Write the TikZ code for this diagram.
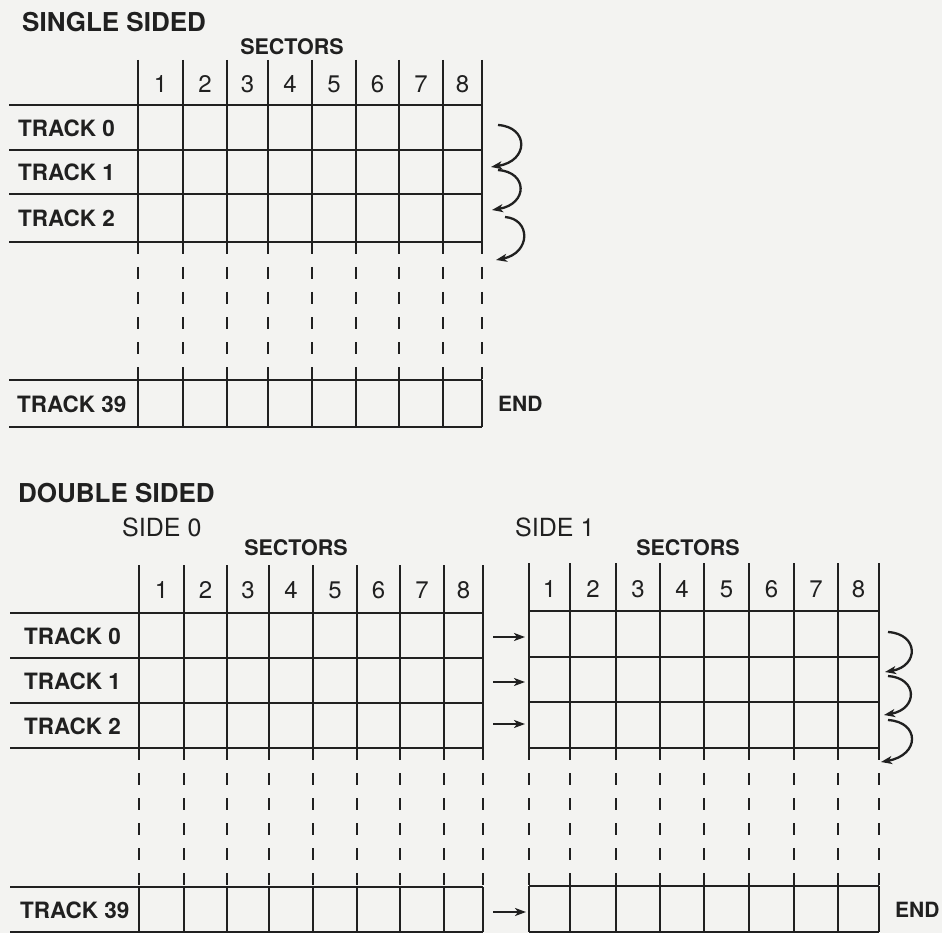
\documentclass[tikz,border=0pt]{standalone}
\usepackage{fontspec}
\setmainfont{TeX Gyre Heros}
\usetikzlibrary{arrows.meta}
\definecolor{bg}{RGB}{243,243,241}
\definecolor{ink}{RGB}{32,32,32}
\begin{document}
\begin{tikzpicture}[x=1pt,y=-1pt,
  gridline/.style={ink, line width=2.6pt},
  dashv/.style={ink, line width=2.6pt, dash pattern=on 12pt off 13pt},
  arr/.style={ink, line width=2.3pt, -{Stealth[length=11pt,width=8pt,inset=3pt]}},
  bigtitle/.style={font=\fontsize{26}{26}\selectfont\bfseries, anchor=west, inner sep=0pt, text=ink},
  sidelabel/.style={font=\fontsize{25}{25}\selectfont, anchor=west, inner sep=0pt, text=ink},
  sectlabel/.style={font=\fontsize{21.5}{21.5}\selectfont\bfseries, inner sep=0pt, text=ink},
  num/.style={font=\fontsize{24}{24}\selectfont, inner sep=0pt, text=ink},
  tracklabel/.style={font=\fontsize{22.5}{22.5}\selectfont\bfseries, anchor=west, inner sep=0pt, text=ink},
  endlabel/.style={font=\fontsize{21}{21}\selectfont\bfseries, anchor=west, inner sep=0pt, text=ink},
]
\fill[bg] (0,0) rectangle (942,933);
\useasboundingbox (0,0) rectangle (942,933);

% ================= SINGLE SIDED =================
\node[bigtitle] (sstitle) at (22,22) {SINGLE SIDED};
\node[sectlabel] (sssect) at (292,47) {SECTORS};
\foreach \x in {138,183,227,268,312,356,399,443,482}{
  \draw[gridline] (\x,60) -- (\x,242);
  \draw[dashv] (\x,242) -- (\x,380);
  \draw[gridline] (\x,380) -- (\x,427);
}
\foreach \y in {105,150,194,242,380,427}{
  \draw[gridline] (9,\y) -- (482,\y);
}
\foreach \a/\b [count=\i] in {138/183,183/227,227/268,268/312,312/356,356/399,399/443,443/482}{
  \node[num] (ssn\i) at ({(\a+\b)/2},84) {\i};
}
\node[tracklabel] (sst0) at (18,128) {TRACK 0};
\node[tracklabel] (sst1) at (18,172) {TRACK 1};
\node[tracklabel] (sst2) at (18,218) {TRACK 2};
\node[tracklabel] (sst39) at (17,404) {TRACK 39};
\node[endlabel] (ssend) at (498,404) {END};

\coordinate (ssa1s) at (498,125); \coordinate (ssa1e) at (491,167);
\coordinate (ssa2s) at (498,170); \coordinate (ssa2e) at (492,210);
\coordinate (ssa3s) at (505,217); \coordinate (ssa3e) at (496,260);
\draw[arr] (ssa1s) .. controls (529,127) and (529,161) .. (ssa1e);
\draw[arr] (ssa2s) .. controls (528,172) and (528,204) .. (ssa2e);
\draw[arr] (ssa3s) .. controls (531,219) and (531,253) .. (ssa3e);

% ================= DOUBLE SIDED =================
\node[bigtitle] (dstitle) at (18,493) {DOUBLE SIDED};
\node[sidelabel] (side0) at (122,527) {SIDE 0};
\node[sidelabel] (side1) at (515,527) {SIDE 1};
\node[sectlabel] (ds0sect) at (296,548) {SECTORS};
\node[sectlabel] (ds1sect) at (688,548) {SECTORS};

% side 0 grid
\foreach \x in {139,184,227,269,313,357,400,444,483}{
  \draw[gridline] (\x,565) -- (\x,748);
  \draw[dashv] (\x,748) -- (\x,887);
  \draw[gridline] (\x,887) -- (\x,932);
}
\foreach \y in {613,658,703,748,887,932}{
  \draw[gridline] (10,\y) -- (483,\y);
}
\foreach \a/\b [count=\i] in {139/184,184/227,227/269,269/313,313/357,357/400,400/444,444/483}{
  \node[num] (dan\i) at ({(\a+\b)/2},590) {\i};
}
\node[tracklabel] (dat0) at (24,636) {TRACK 0};
\node[tracklabel] (dat1) at (24,681) {TRACK 1};
\node[tracklabel] (dat2) at (24,726) {TRACK 2};
\node[tracklabel] (dat39) at (20,910) {TRACK 39};

% side 1 grid
\foreach \x in {529,570,616,660,704,749,794,838,879}{
  \draw[gridline] (\x,563) -- (\x,748);
  \draw[dashv] (\x,748) -- (\x,886);
  \draw[gridline] (\x,886) -- (\x,932);
}
\foreach \y in {611,657,702,748,886,932}{
  \draw[gridline] (529,\y) -- (879,\y);
}
\foreach \a/\b [count=\i] in {529/570,570/616,616/660,660/704,704/749,749/794,794/838,838/879}{
  \node[num] (dbn\i) at ({(\a+\b)/2},589) {\i};
}
\node[endlabel] (dbend) at (895,910) {END};

% arrows side 0 -> side 1
\coordinate (h0s) at (493,637); \coordinate (h0e) at (525,637);
\coordinate (h1s) at (493,682); \coordinate (h1e) at (525,682);
\coordinate (h2s) at (493,724); \coordinate (h2e) at (525,724);
\coordinate (h39s) at (493,912); \coordinate (h39e) at (526,912);
\draw[arr] (h0s) -- (h0e);
\draw[arr] (h1s) -- (h1e);
\draw[arr] (h2s) -- (h2e);
\draw[arr] (h39s) -- (h39e);

% curved arrows side 1
\coordinate (dba1s) at (888,632); \coordinate (dba1e) at (885,672);
\coordinate (dba2s) at (888,676); \coordinate (dba2e) at (884,715);
\coordinate (dba3s) at (888,720); \coordinate (dba3e) at (881,762);
\draw[arr] (dba1s) .. controls (919,634) and (919,666) .. (dba1e);
\draw[arr] (dba2s) .. controls (918,678) and (918,709) .. (dba2e);
\draw[arr] (dba3s) .. controls (920,722) and (920,755) .. (dba3e);
\end{tikzpicture}
\end{document}
